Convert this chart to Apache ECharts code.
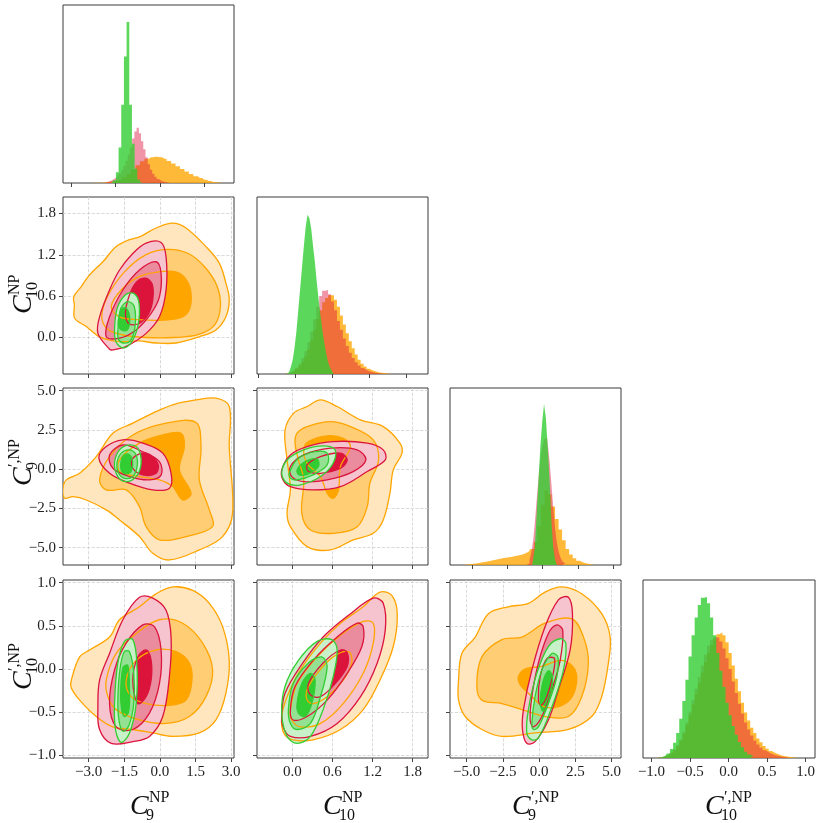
<!DOCTYPE html>
<html>
<head>
<meta charset="utf-8">
<script src="https://cdn.jsdelivr.net/npm/echarts@6/dist/echarts.min.js"></script>
<style>
  html, body { margin: 0; padding: 0; background: #fff; }
  #chart { width: 822px; height: 823px; }
</style>
</head>
<body>
<div id="chart"></div>
<script>
// ---- tick values ----
var ticksC9 = [-3, -1.5, 0, 1.5, 3];
var ticksC10 = [0, 0.6, 1.2, 1.8];
var ticksC9p = [-5, -2.5, 0, 2.5, 5];
var ticksC10p = [-1, -0.5, 0, 0.5, 1];
var ticksHistC9 = [-4, -2, 0, 2];
var ticksHistC10 = [-0.5, 0, 0.5, 1, 1.5];

// ---- 1D histograms: [first bin centre, bin width] and heights ----
var histC9OrangeBins = [-3.0, 0.2];
var histC9Orange = [0.001,0.002,0.003,0.005,0.008,0.012,0.020,0.032,0.050,0.075,0.100,0.122,0.136,0.145,0.148,0.145,0.136,0.124,0.110,0.094,0.078,0.064,0.050,0.038,0.028,0.018,0.011,0.006,0.003];
var histC9PinkBins = [-2.4, 0.1];
var histC9Pink = [0.004,0.008,0.013,0.02,0.028,0.038,0.052,0.07,0.095,0.125,0.16,0.2,0.25,0.29,0.31,0.28,0.235,0.19,0.145,0.105,0.075,0.052,0.035,0.022,0.014,0.008,0.005,0.003,0.001];
var histC9GreenBins = [-2.04, 0.12];
var histC9Green = [0.015,0.06,0.2,0.44,0.71,0.905,0.44,0.22,0.08,0.02,0.005];

var histC10OrangeBins = [-0.1, 0.04];
var histC10Orange = [0.003,0.008,0.015,0.028,0.045,0.07,0.1,0.14,0.19,0.25,0.31,0.36,0.405,0.43,0.445,0.445,0.42,0.38,0.33,0.28,0.23,0.185,0.145,0.11,0.08,0.058,0.042,0.03,0.021,0.015,0.01,0.007,0.005,0.003,0.002,0.001];
var histC10PinkBins = [-0.1, 0.04];
var histC10Pink = [0.004,0.01,0.02,0.035,0.058,0.09,0.13,0.18,0.24,0.31,0.38,0.44,0.47,0.475,0.45,0.41,0.36,0.3,0.25,0.2,0.158,0.12,0.09,0.066,0.048,0.034,0.024,0.016,0.011,0.007,0.005,0.003,0.002,0.001];
var histC10GreenBins = [-0.1, 0.025];
var histC10Green = [0.01,0.02,0.04,0.08,0.15,0.24,0.36,0.48,0.6,0.72,0.83,0.9,0.88,0.82,0.72,0.63,0.52,0.42,0.33,0.25,0.18,0.12,0.07,0.04,0.02];

var histC9pOrangeBins = [-5.5, 0.25];
var histC9pOrange = [0.002,0.004,0.006,0.009,0.012,0.015,0.019,0.023,0.027,0.031,0.035,0.039,0.042,0.045,0.049,0.053,0.058,0.065,0.075,0.09,0.13,0.22,0.34,0.42,0.40,0.33,0.26,0.2,0.14,0.09,0.06,0.038,0.024,0.014,0.008,0.004,0.002];
var histC9pPinkBins = [-1.0, 0.13];
var histC9pPink = [0.01,0.03,0.07,0.14,0.25,0.38,0.5,0.6,0.67,0.71,0.72,0.68,0.58,0.45,0.32,0.2,0.12,0.07,0.04,0.02,0.01];
var histC9pGreenBins = [-0.62, 0.13];
var histC9pGreen = [0.03,0.10,0.29,0.48,0.67,0.81,0.91,0.83,0.67,0.48,0.25,0.10,0.03];

var histC10pOrangeBins = [-0.9, 0.04];
var histC10pOrange = [0.002,0.004,0.008,0.015,0.026,0.042,0.065,0.095,0.135,0.185,0.24,0.3,0.36,0.42,0.48,0.54,0.59,0.635,0.67,0.695,0.705,0.69,0.65,0.59,0.52,0.445,0.375,0.31,0.255,0.21,0.17,0.14,0.11,0.088,0.068,0.052,0.04,0.03,0.022,0.016,0.011,0.008,0.005,0.003,0.002,0.001];
var histC10pPinkBins = [-0.9, 0.04];
var histC10pPink = [0.002,0.005,0.01,0.018,0.03,0.048,0.072,0.105,0.148,0.2,0.26,0.325,0.39,0.455,0.52,0.58,0.63,0.665,0.68,0.675,0.655,0.615,0.56,0.5,0.43,0.365,0.305,0.25,0.2,0.16,0.126,0.098,0.076,0.058,0.044,0.033,0.024,0.017,0.012,0.008,0.005,0.003,0.002];
var histC10pGreenBins = [-0.9, 0.04];
var histC10pGreen = [0.002,0.005,0.012,0.025,0.05,0.085,0.14,0.22,0.32,0.44,0.57,0.69,0.79,0.86,0.9,0.905,0.87,0.79,0.69,0.59,0.49,0.40,0.31,0.24,0.18,0.13,0.09,0.06,0.035,0.02,0.01];

// ---- 2D credible regions (outer, middle, inner) ----
var c9c10Orange = [
  [[-3.6,0.47],[-3.63,0.59],[-3.31,0.74],[-2.96,0.91],[-2.4,1.1],[-1.84,1.32],[-1.28,1.42],[-0.86,1.46],[-0.16,1.59],[0.54,1.66],[1.1,1.59],[1.94,1.32],[2.5,1.08],[2.78,0.79],[2.92,0.55],[2.78,0.3],[2.36,0.11],[1.66,0.01],[0.68,-0.08],[-0.16,-0.08],[-0.9,-0.05],[-1.7,-0.06],[-2.54,0.01],[-3.1,0.16],[-3.59,0.28]],
  [[-2.45,0.3],[-2.2,0.6],[-1.5,0.95],[-0.6,1.2],[0.3,1.28],[1.2,1.22],[1.9,1.02],[2.4,0.75],[2.55,0.45],[2.3,0.18],[1.6,0.04],[0.6,0.0],[-0.6,0.0],[-1.6,0.04],[-2.2,0.12]],
  [[-2.05,0.45],[-1.6,0.7],[-0.9,0.88],[-0.1,0.95],[0.7,0.95],[1.15,0.82],[1.32,0.6],[1.2,0.38],[0.8,0.28],[0.0,0.25],[-0.9,0.26],[-1.7,0.3]]
];
var c9c10Pink = [
  [[-2.12,-0.17],[-2.61,0.06],[-2.54,0.3],[-2.12,0.69],[-1.7,0.98],[-1.14,1.22],[-0.58,1.37],[0.05,1.38],[0.26,1.17],[0.26,0.69],[-0.02,0.3],[-0.58,0.06],[-1.42,-0.13],[-1.98,-0.18]],
  [[-2.26,0.01],[-2.12,0.3],[-1.56,0.69],[-0.86,0.98],[-0.16,1.1],[0.05,0.93],[-0.02,0.59],[-0.37,0.35],[-1.0,0.11],[-1.7,-0.01]],
  [[-1.45,0.35],[-1.3,0.6],[-1.0,0.8],[-0.6,0.86],[-0.33,0.78],[-0.3,0.55],[-0.5,0.33],[-0.9,0.2],[-1.3,0.2]]
];
var c9c10Green = [
  [[-1.91,0.11],[-1.8,0.42],[-1.45,0.62],[-1.1,0.64],[-0.88,0.5],[-0.92,0.18],[-1.2,-0.07],[-1.55,-0.15],[-1.84,-0.07]],
  [[-1.77,0.1],[-1.65,0.42],[-1.35,0.52],[-1.08,0.45],[-1.05,0.15],[-1.25,-0.05],[-1.55,-0.08],[-1.75,-0.02]],
  [[-1.75,0.25],[-1.6,0.42],[-1.4,0.42],[-1.27,0.28],[-1.35,0.12],[-1.55,0.1],[-1.72,0.15]]
];

var c9c9pOrange = [
  [[-4.08,-1.21],[-3.94,-0.68],[-3.38,-0.26],[-2.68,0.8],[-1.98,2.29],[-1.14,2.93],[-0.3,3.57],[0.54,4.1],[1.52,4.41],[2.36,4.52],[2.92,3.99],[2.92,1.44],[3.06,-2.8],[2.64,-4.29],[1.66,-5.14],[0.4,-5.78],[-0.3,-5.35],[-0.86,-4.29],[-1.7,-3.23],[-2.26,-2.59],[-3.1,-1.96],[-3.66,-1.75],[-4.01,-1.85]],
  [[-2.54,-0.68],[-2.12,0.8],[-1.14,2.18],[0.26,2.93],[1.52,2.97],[1.73,1.44],[1.66,-0.68],[2.08,-2.59],[2.22,-3.66],[1.1,-4.29],[-0.02,-4.5],[-0.58,-3.66],[-0.86,-2.38],[-1.42,-1.32],[-2.26,-1.32]],
  [[-1.7,0.59],[-0.86,1.66],[0.12,2.18],[0.89,2.29],[1.03,1.44],[0.82,-0.04],[1.31,-1.53],[0.96,-1.96],[0.54,-1.11],[-0.02,-0.68],[-0.86,-0.47],[-1.7,-0.15]]
];
var c9c9pPink = [
  [[-2.57,0.7],[-2.26,1.44],[-1.56,1.87],[-0.72,1.66],[0.12,1.02],[0.47,-0.26],[0.4,-1.21],[-0.3,-1.32],[-1.28,-0.89],[-2.12,-0.26]],
  [[-2.12,0.91],[-1.56,1.54],[-0.72,1.11],[-0.02,0.48],[0.05,-0.38],[-0.44,-0.68],[-1.28,-0.47],[-1.98,0.06]],
  [[-1.14,0.7],[-0.58,1.02],[-0.09,0.38],[-0.16,-0.26],[-0.72,-0.36],[-1.14,0.06]]
];
var c9c9pGreen = [
  [[-1.91,0.38],[-1.7,1.23],[-1.28,1.55],[-0.93,1.34],[-0.79,0.38],[-1.0,-0.47],[-1.42,-0.79],[-1.77,-0.47]],
  [[-1.81,0.38],[-1.63,1.02],[-1.28,1.23],[-1.0,0.91],[-0.96,0.17],[-1.14,-0.47],[-1.49,-0.58],[-1.74,-0.26]],
  [[-1.65,0.3],[-1.55,0.85],[-1.3,0.95],[-1.15,0.5],[-1.2,-0.1],[-1.4,-0.3],[-1.6,-0.15]]
];

var c10c9pOrange = [
  [[-0.08,0.59],[-0.11,2.5],[0.02,3.57],[0.22,3.99],[0.42,4.41],[0.67,3.99],[1.02,3.14],[1.36,2.71],[1.61,1.66],[1.64,1.02],[1.51,-0.04],[1.46,-1.53],[1.36,-3.23],[1.21,-4.08],[0.91,-4.5],[0.57,-5.14],[0.22,-4.93],[-0.03,-3.66],[-0.08,-2.8],[-0.03,-1.32],[-0.06,-0.04]],
  [[0.07,2.29],[0.22,2.71],[0.57,3.03],[0.87,2.71],[1.21,1.87],[1.29,0.59],[1.16,-0.89],[1.12,-2.38],[0.97,-3.66],[0.62,-4.08],[0.27,-3.87],[0.14,-2.8],[0.17,-0.68],[0.09,0.59],[0.04,1.66]],
  [[0.24,1.76],[0.52,2.12],[0.76,1.97],[0.87,1.44],[0.72,0.17],[0.69,-1.32],[0.61,-1.85],[0.52,-1.53],[0.42,-0.47],[0.22,0.38],[0.17,1.23]]
];
var c10c9pPink = [
  [[-0.16,-0.04],[-0.03,0.91],[0.22,1.44],[0.61,1.76],[1.12,1.66],[1.36,1.23],[1.39,0.59],[1.12,-0.15],[0.72,-1.11],[0.31,-1.32],[-0.03,-1.11],[-0.14,-0.68]],
  [[-0.03,0.17],[0.17,0.91],[0.57,1.34],[0.97,1.23],[1.1,0.59],[0.91,-0.15],[0.52,-0.68],[0.17,-0.79],[-0.01,-0.47]],
  [[0.22,0.27],[0.42,0.8],[0.72,1.02],[0.82,0.59],[0.72,0.06],[0.42,-0.26],[0.24,-0.15]]
];
var c10c9pGreen = [
  [[-0.16,-0.26],[-0.08,0.59],[0.17,1.23],[0.46,1.48],[0.64,1.23],[0.61,0.38],[0.42,-0.47],[0.12,-1.0],[-0.08,-0.89]],
  [[-0.04,-0.15],[0.09,0.7],[0.34,1.12],[0.52,1.02],[0.52,0.27],[0.31,-0.36],[0.07,-0.68],[-0.03,-0.57]],
  [[0.07,-0.04],[0.19,0.48],[0.37,0.64],[0.39,0.17],[0.24,-0.3],[0.1,-0.36]]
];

var c9c10pOrange = [
  [[-3.73,-0.13],[-3.38,0.14],[-2.96,0.22],[-2.12,0.37],[-1.7,0.57],[-0.86,0.72],[-0.16,0.87],[0.54,0.95],[1.38,0.91],[2.08,0.76],[2.64,0.49],[2.92,0.1],[2.78,-0.28],[2.36,-0.59],[1.66,-0.74],[0.54,-0.78],[-0.3,-0.74],[-1.14,-0.7],[-1.98,-0.67],[-2.68,-0.55],[-3.38,-0.36],[-3.73,-0.22]],
  [[-2.26,-0.13],[-1.84,0.18],[-1.0,0.41],[-0.02,0.57],[0.96,0.53],[1.8,0.3],[2.22,-0.01],[1.94,-0.32],[1.24,-0.55],[0.26,-0.63],[-0.86,-0.59],[-1.84,-0.47],[-2.19,-0.32]],
  [[-1.42,-0.13],[-1.0,0.1],[-0.16,0.22],[0.68,0.2],[1.24,0.07],[1.35,-0.13],[1.1,-0.36],[0.4,-0.42],[-0.58,-0.4],[-1.21,-0.32]]
];
var c9c10pPink = [
  [[-2.61,-0.44],[-2.54,-0.13],[-2.12,0.18],[-1.56,0.57],[-0.86,0.83],[-0.3,0.82],[0.26,0.68],[0.47,0.37],[0.4,-0.09],[0.12,-0.55],[-0.44,-0.78],[-1.14,-0.84],[-2.05,-0.86],[-2.54,-0.7]],
  [[-2.12,-0.4],[-1.91,-0.01],[-1.42,0.3],[-0.72,0.51],[-0.23,0.49],[0.05,0.22],[-0.02,-0.17],[-0.44,-0.51],[-1.14,-0.7],[-1.84,-0.67]],
  [[-1.14,-0.13],[-0.93,0.14],[-0.58,0.22],[-0.37,0.1],[-0.37,-0.13],[-0.58,-0.32],[-0.93,-0.4]]
];
var c9c10pGreen = [
  [[-1.91,-0.4],[-1.77,0.07],[-1.49,0.32],[-1.14,0.34],[-0.97,0.07],[-1.0,-0.4],[-1.28,-0.74],[-1.63,-0.85],[-1.87,-0.7]],
  [[-1.77,-0.35],[-1.68,0.0],[-1.5,0.2],[-1.28,0.2],[-1.1,-0.05],[-1.1,-0.4],[-1.3,-0.65],[-1.55,-0.72],[-1.72,-0.6]],
  [[-1.65,-0.25],[-1.55,0.02],[-1.35,0.04],[-1.28,-0.25],[-1.32,-0.5],[-1.5,-0.55],[-1.62,-0.45]]
];

var c10c10pOrange = [
  [[-0.16,-0.55],[-0.08,-0.32],[0.12,-0.01],[0.42,0.3],[0.72,0.53],[1.06,0.72],[1.31,0.89],[1.49,0.85],[1.57,0.64],[1.51,0.26],[1.31,-0.13],[1.06,-0.47],[0.72,-0.7],[0.31,-0.82],[0.01,-0.82],[-0.13,-0.74]],
  [[-0.03,-0.47],[0.07,-0.17],[0.37,0.14],[0.72,0.39],[1.06,0.55],[1.21,0.53],[1.21,0.3],[1.06,-0.05],[0.76,-0.4],[0.42,-0.63],[0.12,-0.67],[-0.01,-0.59]],
  [[0.22,-0.24],[0.37,-0.05],[0.61,0.14],[0.84,0.2],[0.89,0.08],[0.76,-0.13],[0.52,-0.32],[0.31,-0.4],[0.22,-0.36]]
];
var c10c10pPink = [
  [[-0.16,-0.51],[-0.11,-0.28],[0.12,0.03],[0.46,0.37],[0.87,0.64],[1.21,0.82],[1.36,0.76],[1.39,0.45],[1.27,0.07],[1.02,-0.32],[0.67,-0.63],[0.27,-0.78],[-0.03,-0.78],[-0.14,-0.67]],
  [[-0.03,-0.47],[0.04,-0.2],[0.31,0.1],[0.67,0.37],[0.97,0.53],[1.06,0.49],[1.04,0.26],[0.82,-0.05],[0.52,-0.36],[0.22,-0.55],[0.01,-0.59]],
  [[0.24,-0.17],[0.46,0.07],[0.72,0.22],[0.82,0.19],[0.82,0.03],[0.64,-0.17],[0.42,-0.32],[0.27,-0.3]]
];
var c10c10pGreen = [
  [[-0.16,-0.51],[-0.11,-0.2],[0.09,0.1],[0.37,0.32],[0.59,0.34],[0.67,0.22],[0.61,-0.09],[0.46,-0.47],[0.27,-0.78],[0.07,-0.86],[-0.08,-0.78]],
  [[-0.06,-0.47],[0.01,-0.17],[0.24,0.07],[0.44,0.14],[0.52,0.03],[0.42,-0.32],[0.27,-0.63],[0.07,-0.7],[-0.03,-0.63]],
  [[0.07,-0.4],[0.14,-0.17],[0.27,-0.05],[0.34,-0.13],[0.29,-0.4],[0.19,-0.55],[0.09,-0.51]]
];

var c9pc10pOrange = [
  [[-5.56,-0.13],[-5.33,0.18],[-4.41,0.37],[-3.5,0.64],[-2.12,0.72],[-0.74,0.76],[0.41,0.89],[1.57,0.95],[2.94,0.87],[4.32,0.64],[4.9,0.37],[4.78,0.07],[4.32,-0.32],[3.63,-0.55],[2.02,-0.7],[-0.28,-0.74],[-2.57,-0.78],[-3.95,-0.7],[-5.1,-0.55],[-5.56,-0.36]],
  [[-4.3,-0.2],[-3.95,0.14],[-2.57,0.34],[-1.19,0.37],[0.41,0.53],[2.26,0.58],[3.06,0.37],[3.4,0.07],[2.94,-0.32],[2.02,-0.55],[0.41,-0.55],[-1.19,-0.47],[-2.57,-0.4],[-3.95,-0.36]],
  [[-1.43,-0.09],[-0.97,0.0],[0.19,0.03],[1.57,0.1],[2.48,-0.01],[2.48,-0.24],[1.79,-0.4],[0.41,-0.44],[-0.74,-0.28],[-1.31,-0.18]]
];
var c9pc10pPink = [
  [[-1.15,-0.7],[-1.08,-0.47],[-0.5,-0.01],[0.41,0.49],[1.33,0.8],[2.02,0.83],[2.3,0.64],[2.14,0.22],[1.33,-0.24],[0.64,-0.59],[-0.28,-0.84],[-0.85,-0.86]],
  [[-0.62,-0.59],[-0.5,-0.32],[-0.05,0.07],[0.64,0.41],[1.22,0.51],[1.63,0.45],[1.45,0.1],[0.88,-0.24],[0.19,-0.55],[-0.39,-0.67]],
  [[-0.05,-0.36],[0.07,-0.09],[0.53,0.12],[1.06,0.12],[0.92,-0.09],[0.53,-0.32],[0.14,-0.42]]
];
var c9pc10pGreen = [
  [[-0.85,-0.74],[-0.74,-0.47],[-0.16,-0.05],[0.64,0.26],[1.45,0.35],[1.84,0.3],[1.68,-0.01],[0.88,-0.44],[-0.05,-0.8],[-0.5,-0.82]],
  [[-0.5,-0.63],[-0.28,-0.32],[0.19,-0.01],[0.88,0.18],[1.29,0.14],[1.22,-0.09],[0.64,-0.4],[-0.05,-0.67],[-0.39,-0.7]],
  [[0.07,-0.4],[0.23,-0.17],[0.64,-0.02],[0.92,-0.09],[0.76,-0.32],[0.3,-0.49]]
];

// ---- styling ----
var orangeFills = ['#FFE6BE', '#FFCD74', '#FFA500'];
var pinkFills = ['#F6C4CE', '#EA8B9E', '#DC143C'];
var greenFills = ['#C9F1C9', '#94E194', '#32CD32'];
var orangeLine = '#FFA500', pinkLine = '#DC143C', greenLine = '#32CD32';
var serif = '"Liberation Serif", "DejaVu Serif", serif';

function fmt (v) {
  return (v < 0 ? '\u2212' : '') + Math.abs(v).toFixed(1);
}

// grid boxes: 0-3 diagonal histograms, 4-9 lower triangle
var boxes = [
  [63, 5, 171, 178], [257, 197, 171, 177], [450, 388, 171, 177], [643, 580, 172, 178],
  [63, 197, 171, 177], [63, 388, 171, 177], [257, 388, 171, 177],
  [63, 580, 171, 178], [257, 580, 171, 178], [450, 580, 171, 178]
];

function axis (gi, min, max, ticks, showLabels, showGrid, showTicks) {
  return {
    type: 'value', gridIndex: gi, min: min, max: max,
    axisLine: { show: false, onZero: false },
    axisTick: { show: showTicks, length: 4, lineStyle: { color: '#444', width: 1 }, customValues: ticks },
    axisLabel: { show: showLabels, customValues: ticks, formatter: fmt, fontFamily: serif, fontSize: 15, color: '#222', margin: 7 },
    splitLine: { show: showGrid, lineStyle: { type: 'dashed', color: '#cfcfcf', width: 0.8 } }
  };
}

var xAxes = [
  axis(0, -4.36, 3.33, ticksHistC9, false, false, true),
  axis(1, -0.52, 1.79, ticksHistC10, false, false, true),
  axis(2, -6.57, 5.55, ticksC9p, false, false, true),
  axis(3, -1.11, 1.12, ticksC10p, true, false, true),
  axis(4, -4.08, 3.12, ticksC9, false, true, true),
  axis(5, -4.08, 3.12, ticksC9, false, true, true),
  axis(6, -0.53, 2.03, ticksC10, false, true, true),
  axis(7, -4.08, 3.12, ticksC9, true, true, true),
  axis(8, -0.53, 2.03, ticksC10, true, true, true),
  axis(9, -6.15, 5.65, ticksC9p, true, true, true)
];
var yAxes = [
  axis(0, 0, 1, [], false, false, false),
  axis(1, 0, 1, [], false, false, false),
  axis(2, 0, 1, [], false, false, false),
  axis(3, 0, 1, [], false, false, false),
  axis(4, -0.53, 2.04, ticksC10, true, true, true),
  axis(5, -6.1, 5.17, ticksC9p, true, true, true),
  axis(6, -6.1, 5.17, ticksC9p, false, true, true),
  axis(7, -1.03, 1.03, ticksC10p, true, true, true),
  axis(8, -1.03, 1.03, ticksC10p, false, true, true),
  axis(9, -1.03, 1.03, ticksC10p, false, true, true)
];

function histSeries (gi, bins, values, color) {
  var start = bins[0], w = bins[1];
  var pts = [[start - w, 0]];
  values.forEach(function (v, i) { pts.push([start + i * w, v]); });
  pts.push([start + values.length * w, 0]);
  return {
    type: 'line', xAxisIndex: gi, yAxisIndex: gi, data: pts, step: 'middle',
    symbol: 'none', silent: true, lineStyle: { width: 0, opacity: 0 },
    areaStyle: { color: color, opacity: 1 }
  };
}

function contourSeries (gi, items, asLine) {
  return {
    type: 'custom', xAxisIndex: gi, yAxisIndex: gi, silent: true, clip: true,
    data: items.map(function (it) { return it.pts[0]; }),
    renderItem: function (params, api) {
      var it = items[params.dataIndex];
      var pts = it.pts.map(function (p) { return api.coord(p); });
      return {
        type: 'polygon',
        shape: { points: pts, smooth: 0.35 },
        style: asLine ? { fill: 'none', stroke: it.color, lineWidth: 1.3 } : { fill: it.color, stroke: 'none' }
      };
    }
  };
}

function panelSeries (gi, orange, pink, green) {
  var fills = [], lines = [];
  [[orange, orangeFills, orangeLine], [pink, pinkFills, pinkLine], [green, greenFills, greenLine]].forEach(function (set) {
    set[0].forEach(function (poly, k) {
      fills.push({ pts: poly, color: set[1][k] });
      lines.push({ pts: poly, color: set[2] });
    });
  });
  return [contourSeries(gi, fills, false), contourSeries(gi, lines, true)];
}

var orangeHist = 'rgba(255,165,0,0.78)';
var pinkHist = 'rgba(220,20,60,0.45)';
var greenHist = 'rgba(50,205,50,0.8)';

var series = [
  histSeries(0, histC9OrangeBins, histC9Orange, orangeHist),
  histSeries(0, histC9PinkBins, histC9Pink, pinkHist),
  histSeries(0, histC9GreenBins, histC9Green, greenHist),
  histSeries(1, histC10OrangeBins, histC10Orange, orangeHist),
  histSeries(1, histC10PinkBins, histC10Pink, pinkHist),
  histSeries(1, histC10GreenBins, histC10Green, greenHist),
  histSeries(2, histC9pOrangeBins, histC9pOrange, orangeHist),
  histSeries(2, histC9pPinkBins, histC9pPink, pinkHist),
  histSeries(2, histC9pGreenBins, histC9pGreen, greenHist),
  histSeries(3, histC10pOrangeBins, histC10pOrange, orangeHist),
  histSeries(3, histC10pPinkBins, histC10pPink, pinkHist),
  histSeries(3, histC10pGreenBins, histC10pGreen, greenHist)
].concat(
  panelSeries(4, c9c10Orange, c9c10Pink, c9c10Green),
  panelSeries(5, c9c9pOrange, c9c9pPink, c9c9pGreen),
  panelSeries(6, c10c9pOrange, c10c9pPink, c10c9pGreen),
  panelSeries(7, c9c10pOrange, c9c10pPink, c9c10pGreen),
  panelSeries(8, c10c10pOrange, c10c10pPink, c10c10pGreen),
  panelSeries(9, c9pc10pOrange, c9pc10pPink, c9pc10pGreen)
);

// axis titles: C with sub- and superscript
function mathLabel (x, y, vertical, sub, sup) {
  return {
    type: 'group', x: x, y: y, rotation: vertical ? Math.PI / 2 : 0, silent: true,
    children: [
      { type: 'text', x: 0, y: 0, style: { text: 'C', font: 'italic 28px ' + serif, fill: '#111', textAlign: 'left', textVerticalAlign: 'middle', align: 'left', verticalAlign: 'middle' } },
      { type: 'text', x: 19, y: -9, style: { text: sup, font: '16px ' + serif, fill: '#111', textAlign: 'left', textVerticalAlign: 'middle', align: 'left', verticalAlign: 'middle' } },
      { type: 'text', x: 16, y: 9, style: { text: sub, font: '16px ' + serif, fill: '#111', textAlign: 'left', textVerticalAlign: 'middle', align: 'left', verticalAlign: 'middle' } }
    ]
  };
}

var chart = echarts.init(document.getElementById('chart'), null, { renderer: 'canvas' });
chart.setOption({
  animation: false,
  backgroundColor: '#fff',
  grid: boxes.map(function (b) {
    return { left: b[0], top: b[1], width: b[2], height: b[3], show: true, borderColor: '#3a3a3a', borderWidth: 1, backgroundColor: 'transparent', containLabel: false };
  }),
  xAxis: xAxes,
  yAxis: yAxes,
  series: series,
  graphic: { elements: [
    mathLabel(130, 807, false, '9', 'NP'),
    mathLabel(323, 807, false, '10', 'NP'),
    mathLabel(512, 807, false, '9', '\u2032,NP'),
    mathLabel(705, 807, false, '10', '\u2032,NP'),
    mathLabel(24, 314, true, '10', 'NP'),
    mathLabel(24, 486, true, '9', '\u2032,NP'),
    mathLabel(24, 690, true, '10', '\u2032,NP')
  ] }
});
</script>
</body>
</html>
